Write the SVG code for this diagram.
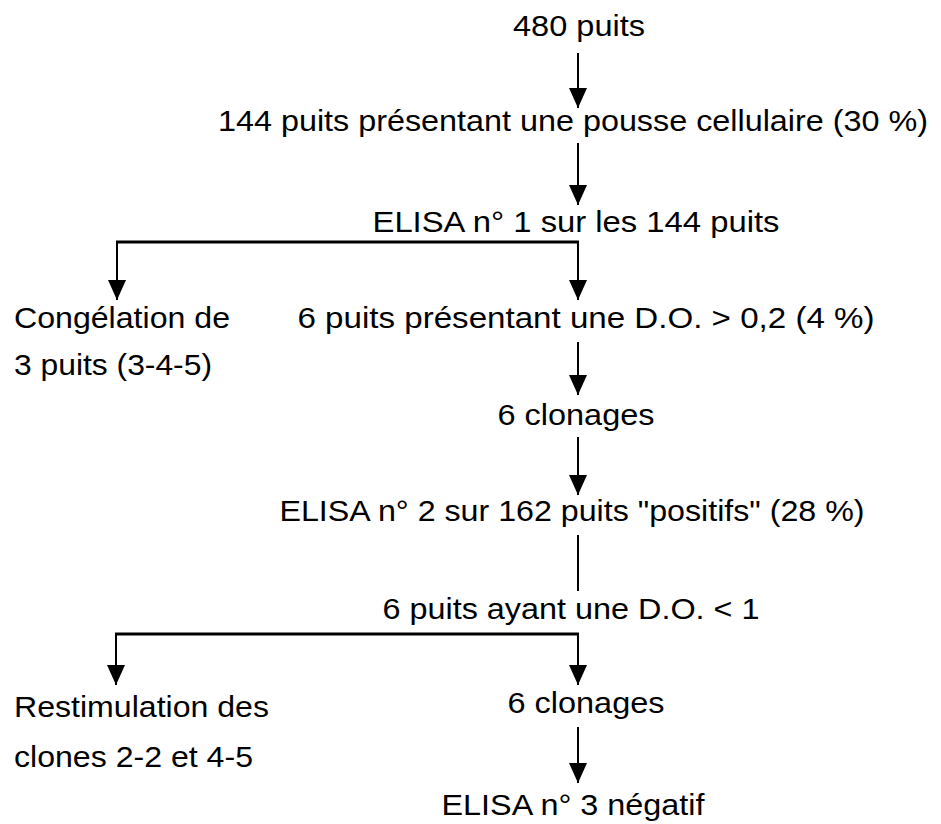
<svg xmlns="http://www.w3.org/2000/svg" width="941" height="824" viewBox="0 0 941 824">
<defs>
<style>
text{font-family:"Liberation Sans",Arial,sans-serif;font-size:29px;fill:#000}
.c{text-anchor:middle}
.ln{stroke:#000;stroke-width:2;fill:none}
.hz{stroke:#000;stroke-width:3;fill:none}
</style>
<marker id="ah" markerUnits="userSpaceOnUse" markerWidth="20" markerHeight="18" refX="20" refY="9" orient="auto" viewBox="0 0 20 18">
<path d="M0,0 L20,9 L0,18 z" fill="#000"/>
</marker>
</defs>
<rect width="941" height="824" fill="#fff"/>
<g id="connectors">
<line class="ln" x1="578" y1="53" x2="578" y2="108" marker-end="url(#ah)"/>
<line class="ln" x1="578" y1="143" x2="578" y2="205" marker-end="url(#ah)"/>
<line class="hz" x1="116" y1="242" x2="579" y2="242"/>
<line class="ln" x1="117" y1="241" x2="117" y2="300" marker-end="url(#ah)"/>
<line class="ln" x1="578" y1="241" x2="578" y2="300" marker-end="url(#ah)"/>
<line class="ln" x1="578" y1="342" x2="578" y2="395" marker-end="url(#ah)"/>
<line class="ln" x1="578" y1="437" x2="578" y2="495" marker-end="url(#ah)"/>
<line class="ln" x1="578" y1="535" x2="578" y2="591"/>
<line class="hz" x1="115" y1="634" x2="579" y2="634"/>
<line class="ln" x1="116" y1="633" x2="116" y2="685" marker-end="url(#ah)"/>
<line class="ln" x1="578" y1="633" x2="578" y2="685" marker-end="url(#ah)"/>
<line class="ln" x1="578" y1="727" x2="578" y2="783" marker-end="url(#ah)"/>
</g>
<g id="n1"><text class="c" x="579" y="36" textLength="132" lengthAdjust="spacingAndGlyphs">480 puits</text></g>
<g id="n2"><text class="c" x="573" y="131" textLength="710" lengthAdjust="spacingAndGlyphs">144 puits présentant une pousse cellulaire (30 %)</text></g>
<g id="n3"><text class="c" x="576" y="232" textLength="407" lengthAdjust="spacingAndGlyphs">ELISA n° 1 sur les 144 puits</text></g>
<g id="n4"><text x="14" y="328" textLength="216" lengthAdjust="spacingAndGlyphs">Congélation de</text><text x="14" y="375" textLength="198" lengthAdjust="spacingAndGlyphs">3 puits (3-4-5)</text></g>
<g id="n5"><text class="c" x="586" y="328" textLength="577" lengthAdjust="spacingAndGlyphs">6 puits présentant une D.O. &gt; 0,2 (4 %)</text></g>
<g id="n6"><text class="c" x="576" y="425" textLength="157" lengthAdjust="spacingAndGlyphs">6 clonages</text></g>
<g id="n7"><text class="c" x="572" y="521" textLength="585" lengthAdjust="spacingAndGlyphs">ELISA n° 2 sur 162 puits "positifs" (28 %)</text></g>
<g id="n8"><text class="c" x="571" y="619" textLength="377" lengthAdjust="spacingAndGlyphs">6 puits ayant une D.O. &lt; 1</text></g>
<g id="n9"><text x="14" y="717" textLength="255" lengthAdjust="spacingAndGlyphs">Restimulation des</text><text x="14" y="767" textLength="239" lengthAdjust="spacingAndGlyphs">clones 2-2 et 4-5</text></g>
<g id="n10"><text class="c" x="586" y="713" textLength="157" lengthAdjust="spacingAndGlyphs">6 clonages</text></g>
<g id="n11"><text class="c" x="573" y="815" textLength="263" lengthAdjust="spacingAndGlyphs">ELISA n° 3 négatif</text></g>
</svg>
